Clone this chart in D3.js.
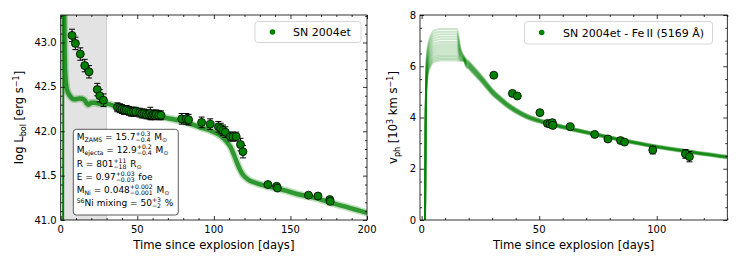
<!DOCTYPE html>
<html><head><meta charset="utf-8">
<script src="https://cdn.jsdelivr.net/npm/d3@7"></script>
<style>body{margin:0;background:#fff}svg{display:block;font-family:"DejaVu Sans",sans-serif}</style>
</head><body><svg id="c" width="739" height="263"></svg>
<script>
// ---- Left panel data: bolometric light curve ----
const lcDays = [7.4,9.6,12.8,15.7,18.5,23.9,25.5,27.9,37.0,38.6,40.0,41.5,43.0,44.5,46.0,47.5,49.0,51.5,53.0,54.5,56.0,57.5,58.5,59.5,60.5,61.5,62.5,64.0,65.5,79.0,82.0,83.5,92.0,97.6,103.0,104.5,106.0,107.5,110.8,112.5,114.6,117.4,119.0,135.3,141.0,141.5,161.8,168.0,175.7,176.0];
const lcLogL = [43.08,42.99,42.87,42.74,42.67,42.47,42.40,42.35,42.27,42.26,42.25,42.24,42.24,42.23,42.22,42.22,42.22,42.21,42.20,42.20,42.19,42.19,42.20,42.18,42.19,42.18,42.19,42.18,42.18,42.14,42.14,42.13,42.10,42.08,42.05,42.03,42.01,41.99,41.94,41.94,41.94,41.85,41.77,41.40,41.38,41.36,41.28,41.27,41.23,41.21];
const lcErr  = [0.07,0.07,0.07,0.07,0.07,0.07,0.07,0.07,0.05,0.05,0.05,0.05,0.05,0.05,0.05,0.05,0.05,0.05,0.05,0.05,0.05,0.05,0.07,0.05,0.05,0.05,0.05,0.05,0.05,0.06,0.06,0.06,0.06,0.06,0.06,0.06,0.06,0.06,0.05,0.05,0.05,0.07,0.07,0.01,0.01,0.01,0.01,0.01,0.01,0.01];
// model bolometric curve
const lcModelDays = [1.6,1.8,2.3,2.8,3.9,6,9,12.5,15,18,20,22.5,26,30,36,47,58,69,80,90,100,105,108,111,113,115,117,119,122,127,135,145,155,166,177,188,200];
const lcModelLogL = [40.5,44.0,43.3,42.7,42.48,42.40,42.36,42.37,42.36,42.30,42.32,42.32,42.31,42.31,42.28,42.24,42.19,42.15,42.11,42.05,41.99,41.94,41.89,41.82,41.74,41.65,41.57,41.51,41.46,41.42,41.38,41.34,41.29,41.25,41.19,41.14,41.08];

// ---- Right panel data: photospheric velocity ----
const velDays = [30.7,38.6,40.7,50.3,53.5,54.5,55.6,55.8,63.2,73.6,79.2,84.6,86.3,98.3,112.2,113.9];
const velVals = [5.65,4.94,4.84,4.19,3.77,3.75,3.80,3.69,3.64,3.34,3.16,3.10,3.04,2.73,2.58,2.47];
const velErr  = [0.05,0.05,0.05,0.05,0.05,0.05,0.1,0.1,0.05,0.05,0.05,0.05,0.05,0.15,0.17,0.2];
// model ensemble: plateau levels of individual models
const vPlateau = [6.22,6.28,6.34,6.40,6.47,6.55,6.62,6.70,6.78,6.86,6.95,7.05,7.15,7.25,7.35,7.45];
// early rise template (fraction of plateau level)
const vRiseDays = [1.4,1.7,2.0,2.5,3.0,4.0,5.0,8.0,15.0];
const vRiseFrac = [-0.05,0.55,0.82,0.9,0.935,0.97,0.99,1.0,1.0];
// shared late-time decline and its ensemble spread
const vLateDays   = [19,20,22,25,28,30,33,36,40,45,50,55,60,70,80,90,100,110,120,130];
const vLateVals   = [6.12,6.05,5.85,5.55,5.22,5.0,4.75,4.52,4.27,4.03,3.87,3.75,3.63,3.42,3.22,3.03,2.86,2.72,2.58,2.46];
const vLateSpread = [0.30,0.30,0.30,0.28,0.26,0.24,0.22,0.2,0.18,0.16,0.14,0.13,0.12,0.11,0.1,0.1,0.1,0.1,0.1,0.1];

// ---- tick values ----
const lXTicks = [0,50,100,150,200], lYTicks = [41.0,41.5,42.0,42.5,43.0];
const rXTicks = [0,50,100], rYTicks = [0,2,4,6,8];

const svg = d3.select("#c");
const GREEN = "#008000";

function panel(o){
  const g = svg.append("g");
  const x = d3.scaleLinear().domain(o.xd).range(o.xr);
  const y = d3.scaleLinear().domain(o.yd).range(o.yr);
  const clipId = "clip"+o.id;
  svg.append("clipPath").attr("id",clipId).append("rect")
    .attr("x",o.xr[0]).attr("y",o.yr[1]).attr("width",o.xr[1]-o.xr[0]).attr("height",o.yr[0]-o.yr[1]);
  const plot = g.append("g").attr("clip-path",`url(#${clipId})`);
  const tk = (sel, axis, ticks, size) => { axis.tickValues(ticks).tickSize(size).tickFormat(""); sel.call(axis); sel.select(".domain").remove(); sel.selectAll("line").attr("stroke","#000").attr("stroke-width",0.8); };
  const xMin = d3.range(o.xd[0] < 0 ? 0 : o.xd[0], o.xd[1]+0.001, o.xmin).filter(v=>!o.xt.includes(v));
  const yMin = d3.range(o.yd[0], o.yd[1]+0.001, o.ymin).map(v=>+v.toFixed(3)).filter(v=>!o.yt.some(t=>Math.abs(t-v)<1e-6));
  [[d3.axisTop,o.yr[0]],[d3.axisBottom,o.yr[1]]].forEach(([mk,pos])=>{
    tk(g.append("g").attr("transform",`translate(0,${pos})`), mk(x), o.xt, 4);
    tk(g.append("g").attr("transform",`translate(0,${pos})`), mk(x), xMin, 2);
  });
  [[d3.axisRight,o.xr[0]],[d3.axisLeft,o.xr[1]]].forEach(([mk,pos])=>{
    tk(g.append("g").attr("transform",`translate(${pos},0)`), mk(y), o.yt, 4);
    tk(g.append("g").attr("transform",`translate(${pos},0)`), mk(y), yMin, 2);
  });
  g.append("g").selectAll("text").data(o.xt).join("text")
    .attr("x",d=>x(d)).attr("y",o.yr[0]+13).attr("text-anchor","middle").attr("font-size",10).text(d=>d);
  g.append("g").selectAll("text").data(o.yt).join("text")
    .attr("x",o.xr[0]-4).attr("y",d=>y(d)+3.5).attr("text-anchor","end").attr("font-size",10).text(o.yfmt);
  g.append("text").attr("x",(o.xr[0]+o.xr[1])/2).attr("y",o.yr[0]+29).attr("text-anchor","middle")
    .attr("font-size",11.6).text("Time since explosion [days]");
  return {g,plot,x,y};
}

function drawPoints(P, days, vals, errs){
  const gp = P.plot.append("g");
  days.forEach((d,i)=>{
    const cx=P.x(d), y1=P.y(vals[i]-errs[i]), y2=P.y(vals[i]+errs[i]);
    gp.append("line").attr("x1",cx).attr("x2",cx).attr("y1",y1).attr("y2",y2).attr("stroke","#000").attr("stroke-width",1);
    [y1,y2].forEach(yy=>gp.append("line").attr("x1",cx-3).attr("x2",cx+3).attr("y1",yy).attr("y2",yy).attr("stroke","#000").attr("stroke-width",1));
  });
  gp.selectAll("circle").data(days).join("circle").attr("cx",d=>P.x(d)).attr("cy",(d,i)=>P.y(vals[i]))
    .attr("r",4).attr("fill",GREEN).attr("stroke","#000").attr("stroke-width",0.8);
}

// ========== LEFT ==========
const L = panel({id:"L",xd:[0,200],xr:[60.7,367],yd:[41.0,43.31],yr:[220,15],xt:lXTicks,yt:lYTicks,xmin:10,ymin:0.1,yfmt:d=>d.toFixed(1)});
L.plot.append("rect").attr("x",L.x(0)).attr("y",15).attr("width",L.x(30)-L.x(0)).attr("height",205)
  .attr("fill","#e3e3e3").attr("stroke","#c8c8c8").attr("stroke-width",0.8);
const lcPts = lcModelDays.map((d,i)=>[d,lcModelLogL[i]]);
const lline = d3.line().x(d=>L.x(d[0])).y(d=>L.y(d[1])).curve(d3.curveMonotoneX);
L.plot.append("path").attr("d",lline(lcPts.slice(0,3))).attr("fill","none").attr("stroke",GREEN).attr("stroke-width",2);
L.plot.append("path").attr("d",lline(lcPts.slice(1))).attr("fill","none").attr("stroke",GREEN).attr("stroke-opacity",0.25).attr("stroke-width",7.5);
L.plot.append("path").attr("d",lline(lcPts.slice(1))).attr("fill","none").attr("stroke",GREEN).attr("stroke-opacity",0.75).attr("stroke-width",4.5);
drawPoints(L, lcDays, lcLogL, lcErr);
L.g.append("rect").attr("x",60.7).attr("y",15).attr("width",367-60.7).attr("height",205).attr("fill","none").attr("stroke","#000").attr("stroke-width",0.8);

// text box
const tb = L.g.append("g");
tb.append("rect").attr("x",73.3).attr("y",129.3).attr("width",105).attr("height",85.7).attr("rx",3)
  .attr("fill","#fff").attr("fill-opacity",0.9).attr("stroke","#333").attr("stroke-width",0.8);
function richLine(gp, x0, y0, parts){
  let xc = x0;
  parts.forEach(p=>{
    if(p.stack){
      const a = gp.append("text").attr("x",xc).attr("y",y0-3.6).attr("font-size",6.2).text(p.stack[0]);
      const b = gp.append("text").attr("x",xc).attr("y",y0+2.2).attr("font-size",6.2).text(p.stack[1]);
      xc += Math.max(a.node().getComputedTextLength(), b.node().getComputedTextLength()) + 0.8;
    } else {
      const fs = p.sub||p.sup ? 6.2 : 9;
      const dy = p.sub ? 2 : (p.sup ? -3.5 : 0);
      const t = gp.append("text").attr("x",xc).attr("y",y0+dy).attr("font-size",fs).style("white-space","pre").text(p.t);
      xc += t.node().getComputedTextLength();
    }
  });
}
const tbLines = [
  [{t:"M"},{t:"ZAMS",sub:1},{t:" = 15.7"},{stack:["+0.3","−0.4"]},{t:" M"},{t:"⊙",sub:1}],
  [{t:"M"},{t:"ejecta",sub:1},{t:" = 12.9"},{stack:["+0.2","−0.4"]},{t:" M"},{t:"⊙",sub:1}],
  [{t:"R = 801"},{stack:["+11","−18"]},{t:" R"},{t:"⊙",sub:1}],
  [{t:"E = 0.97"},{stack:["+0.03","−0.03"]},{t:" foe"}],
  [{t:"M"},{t:"Ni",sub:1},{t:" = 0.048"},{stack:["+0.002","−0.001"]},{t:" M"},{t:"⊙",sub:1}],
  [{t:"56",sup:1},{t:"Ni mixing = 50"},{stack:["+3","−2"]},{t:" %"}]
];
const tbY = [140,153,166.5,179.5,193,206];
tbLines.forEach((ln,i)=>richLine(tb,76.7,tbY[i],ln));

// legend left
const lg = L.g.append("g");
lg.append("rect").attr("x",255).attr("y",21.5).attr("width",106).attr("height",21).attr("rx",3)
  .attr("fill","#fff").attr("fill-opacity",0.8).attr("stroke","#ccc").attr("stroke-width",0.8);
lg.append("circle").attr("cx",272.5).attr("cy",32).attr("r",2.8).attr("fill",GREEN);
lg.append("text").attr("x",293).attr("y",36).attr("font-size",11).text("SN 2004et");

const yl = L.g.append("text").attr("transform","translate(23,117.5) rotate(-90)").attr("text-anchor","middle").attr("font-size",11.6);
yl.append("tspan").text("log L");
yl.append("tspan").attr("font-size",8).attr("dy",3).text("bol");
yl.append("tspan").attr("dy",-3).text(" [erg s");
yl.append("tspan").attr("font-size",8).attr("dy",-4.5).text("−1");
yl.append("tspan").attr("dy",4.5).text("]");

// ========== RIGHT ==========
const R = panel({id:"R",xd:[-0.7,130],xr:[420,727.3],yd:[0,8],yr:[220,15],xt:rXTicks,yt:rYTicks,xmin:10,ymin:0.5,yfmt:d=>d});
const rline = d3.line().x(d=>R.x(d[0])).y(d=>R.y(d[1])).curve(d3.curveMonotoneX);
vPlateau.forEach((p,k)=>{
  const f = k/(vPlateau.length-1) - 0.5;
  const pts = vRiseDays.map((d,i)=>[d,p*vRiseFrac[i]]);
  pts.push([16.5, p - (p-6.2)*0.6]);
  pts.push([18, 6.2 + (p-6.2)*0.15]);
  vLateDays.forEach((d,i)=>pts.push([d, vLateVals[i] + f*vLateSpread[i]]));
  R.plot.append("path").attr("d",rline(pts)).attr("fill","none").attr("stroke",GREEN)
    .attr("stroke-opacity",0.2).attr("stroke-width",2);
});
drawPoints(R, velDays, velVals, velErr);
R.g.append("rect").attr("x",420).attr("y",15).attr("width",307.3).attr("height",205).attr("fill","none").attr("stroke","#000").attr("stroke-width",0.8);

const rg = R.g.append("g");
rg.append("rect").attr("x",524.5).attr("y",21.5).attr("width",188).attr("height",22.5).attr("rx",3)
  .attr("fill","#fff").attr("fill-opacity",0.8).attr("stroke","#ccc").attr("stroke-width",0.8);
rg.append("circle").attr("cx",541.7).attr("cy",32.5).attr("r",2.8).attr("fill",GREEN);
rg.append("text").attr("x",563).attr("y",36.5).attr("font-size",11).text("SN 2004et - Fe\u2009II (5169 Å)");

const yr = R.g.append("text").attr("transform","translate(397,117.5) rotate(-90)").attr("text-anchor","middle").attr("font-size",11.6);
yr.append("tspan").text("v");
yr.append("tspan").attr("font-size",8).attr("dy",3).text("ph");
yr.append("tspan").attr("dy",-3).text(" [10");
yr.append("tspan").attr("font-size",8).attr("dy",-4.5).text("3");
yr.append("tspan").attr("dy",4.5).text(" km s");
yr.append("tspan").attr("font-size",8).attr("dy",-4.5).text("−1");
yr.append("tspan").attr("dy",4.5).text("]");
</script></body></html>
